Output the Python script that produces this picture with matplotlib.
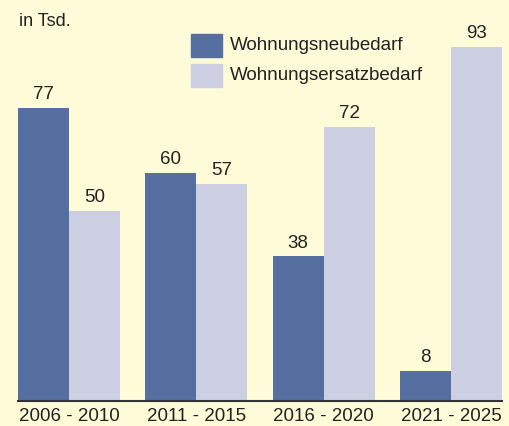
import matplotlib
matplotlib.use("Agg")
import matplotlib.pyplot as plt
from matplotlib.patches import Rectangle
import numpy as np

categories = ["2006 - 2010", "2011 - 2015", "2016 - 2020", "2021 - 2025"]
neubedarf = [77, 60, 38, 8]
ersatzbedarf = [50, 57, 72, 93]
series_names = ["Wohnungsneubedarf", "Wohnungsersatzbedarf"]

bg = "#fefbd9"
c_dark = "#5570a0"
c_light = "#cdd0e2"
txt = "#222222"

plt.rcParams['font.family'] = ['Liberation Sans', 'DejaVu Sans']

W, H = 509, 426
fig = plt.figure(figsize=(W/100, H/100), dpi=100, facecolor=bg)
ax = fig.add_axes([18/W, (H-401)/H, 484/W, 401/H])
ax.set_facecolor(bg)

x = np.arange(len(categories))
bw = 0.4
b1 = ax.bar(x - bw/2, neubedarf, bw, color=c_dark)
b2 = ax.bar(x + bw/2, ersatzbedarf, bw, color=c_light)

for bars, vals in ((b1, neubedarf), (b2, ersatzbedarf)):
    for r, v in zip(bars, vals):
        ax.annotate(str(v), (r.get_x() + r.get_width()/2, v), xytext=(0, 3.5),
                    textcoords="offset points", ha="center", va="bottom",
                    fontsize=13.5, color=txt)

ax.set_xlim(-0.4, 3.4)
ax.set_ylim(0, 401/3.806)
ax.set_xticks(x)
ax.set_xticklabels(categories, fontsize=13.5, color=txt)
ax.tick_params(axis='x', length=0, pad=5)
ax.set_yticks([])
for s in ("top", "right", "left"):
    ax.spines[s].set_visible(False)
ax.spines["bottom"].set_color("#333333")
ax.spines["bottom"].set_linewidth(1.5)

fig.text(19/W, 1 - 22/H, "in Tsd.", fontsize=13, color=txt, va="center", ha="left")

# legend
for i, (name, col) in enumerate(zip(series_names, [c_dark, c_light])):
    y0 = 34 + i*30
    fig.patches.append(Rectangle((191/W, 1 - (y0+23)/H), 31/W, 23/H,
                                 transform=fig.transFigure, color=col))
    fig.text(230/W, 1 - (y0+11.5)/H, name, fontsize=13.5, color=txt,
             va="center", ha="left")

fig.savefig("out.png", dpi=100, facecolor=bg)
